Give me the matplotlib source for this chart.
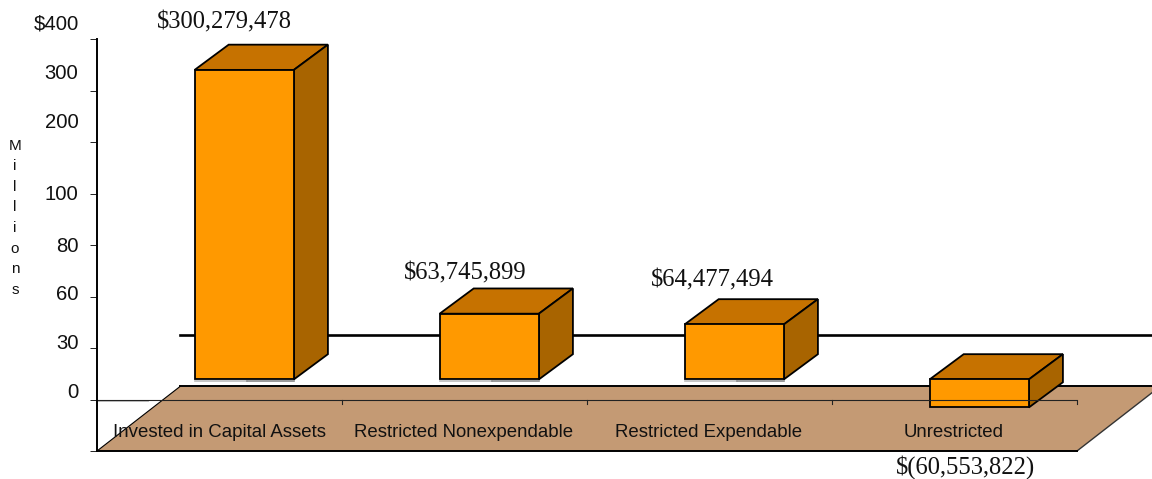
import matplotlib
matplotlib.use('Agg')
import matplotlib.pyplot as plt

# data (bar ends are in axis tick positions, the axis is not linear)
categories = ['Invested in Capital Assets', 'Restricted Nonexpendable', 'Restricted Expendable', 'Unrestricted']
net_assets = [300279478, 63745899, 64477494, -60553822]
bar_base = [0.39, 0.39, 0.39, -0.155]
bar_top = [6.40, 1.666, 1.458, 0.39]
tick_labels = ['', '0', '30', '60', '80', '100', '200', '300', '$400']

# colours
FRONT = '#FF9900'
TOP = '#C67200'
SIDE = '#A86400'
FLOOR = '#C49A74'

# layout
BAR_CENTER = 0.601
BAR_WIDTH = 0.405
DEPTH_X = 0.139
DEPTH_Y = 0.49
FLOOR_X = 0.339
FLOOR_TOP = 0.253
WALL_Y = 1.244
tick_label_shift = [0, 7.5, 4.5, 1.5, -1, -1, 20, 17, 15]
value_shift = [(-19.5, 47), (-23.5, 40), (-21.5, 43.5), (-14, -60)]
category_shift = [-25, -26, -25.5, -26]

SERIF = 'Liberation Serif'
SANS = 'Liberation Sans'

fig = plt.figure(figsize=(11.52, 4.79), dpi=100)
ax = fig.add_axes([97 / 1152, (479 - 451) / 479, 980 / 1152, 412 / 479])
ax.set_xlim(0, 4)
ax.set_ylim(-1, 7)
ax.spines['top'].set_visible(False)
ax.spines['right'].set_visible(False)
ax.spines['left'].set_linewidth(1.4)
ax.spines['bottom'].set_linewidth(1.4)
ax.spines['left'].set_zorder(6)
ax.spines['bottom'].set_zorder(6)

positions = list(range(-1, 8))
ax.set_yticks(positions)
ax.set_yticklabels([''] * len(positions))
ax.tick_params(axis='y', length=5, width=0.7, color='#222222')
ax.set_xticks([])

# tick labels sit above their ticks in the original
for pos, lab, shift in zip(positions, tick_labels, tick_label_shift):
    ax.annotate(lab, (0, pos), xytext=(-18.5, shift), textcoords='offset pixels',
                ha='right', va='center', fontsize=14.6, family=SANS, color='#111111',
                annotation_clip=False)

ax.text(-82 / 245, 3.53, 'M\ni\nl\nl\ni\no\nn\ns', ha='center', va='center', fontsize=11,
        family=SANS, linespacing=1.6, color='#111111', clip_on=False)

# floor and back line
ax.fill([0, 4, 4 + FLOOR_X, FLOOR_X], [-1, -1, FLOOR_TOP, FLOOR_TOP],
        facecolor=FLOOR, edgecolor='none', zorder=1, clip_on=False)
ax.plot([FLOOR_X, 4 + FLOOR_X], [FLOOR_TOP, FLOOR_TOP], color='black', lw=1.4, zorder=1.2, clip_on=False)
ax.plot([0, FLOOR_X], [-1, FLOOR_TOP], color='black', lw=0.8, zorder=1.2)
ax.plot([4, 4 + FLOOR_X], [-1, FLOOR_TOP], color='#333333', lw=1.0, zorder=1.2, clip_on=False)
ax.plot([FLOOR_X, 4 + FLOOR_X], [WALL_Y, WALL_Y], color='black', lw=1.9, zorder=1.5, clip_on=False)

# bars
centers = [i + BAR_CENTER for i in range(len(categories))]
for x, base, top in zip(centers, bar_base, bar_top):
    left = x - BAR_WIDTH / 2
    right = x + BAR_WIDTH / 2
    ax.bar(x, top - base, bottom=base, width=BAR_WIDTH, color=FRONT, edgecolor='black', linewidth=1.3, zorder=4)
    ax.fill([left, right, right + DEPTH_X, left + DEPTH_X],
            [top, top, top + DEPTH_Y, top + DEPTH_Y],
            facecolor=TOP, edgecolor='black', linewidth=1.3, zorder=3)
    ax.fill([right, right + DEPTH_X, right + DEPTH_X, right],
            [base, base + DEPTH_Y, top + DEPTH_Y, top],
            facecolor=SIDE, edgecolor='black', linewidth=1.3, zorder=3)
    if base > 0:
        ax.plot([left, x + 0.01], [base - 0.04, base - 0.04], color='#BBBBBB', lw=1.2, zorder=2)
        ax.plot([x + 0.01, right], [base - 0.04, base - 0.04], color='#888888', lw=1.2, zorder=2)

# zero line with its ticks, drawn over the floor and the last bar
ax.plot([0, FLOOR_X * 0.62], [-0.025, -0.025], color='#BBBBBB', lw=1.3, zorder=0.5)
ax.axhline(0, xmin=0, xmax=1, color='#222222', lw=0.8, zorder=5)
for i in range(1, 5):
    ax.plot([i, i], [0, -0.08], color='#222222', lw=0.8, zorder=5, clip_on=False)

# text on the floor and above the bars
for x, name, dx in zip(centers, categories, category_shift):
    ax.annotate(name, (x, -1), xytext=(dx, 18.5), textcoords='offset pixels', ha='center', va='center',
                fontsize=13.4, family=SANS, color='#111111', zorder=7, annotation_clip=False)

for x, base, top, value, shift in zip(centers, bar_base, bar_top, net_assets, value_shift):
    if value >= 0:
        text = f'${value:,}'
        anchor = top
    else:
        text = f'$({-value:,})'
        anchor = base
    ax.annotate(text, (x, anchor), xytext=shift, textcoords='offset pixels', ha='center', va='center',
                fontsize=17.7, family=SERIF, color='#111111', zorder=7, annotation_clip=False)

fig.savefig('out.png', dpi=100)
